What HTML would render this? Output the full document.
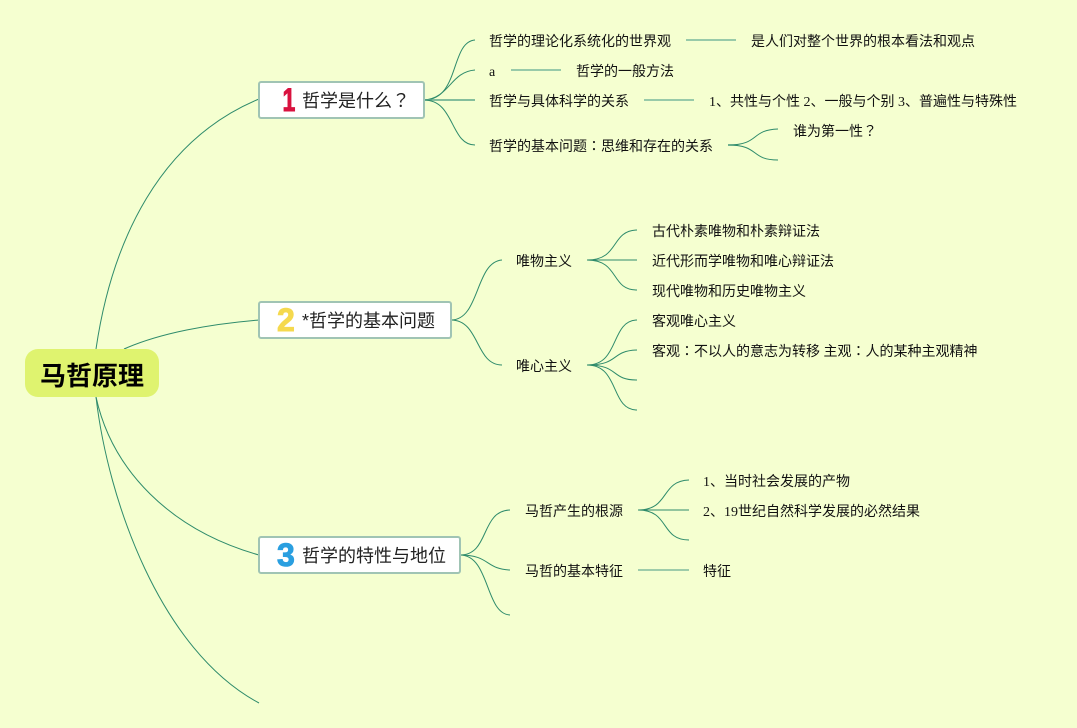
<!DOCTYPE html>
<html><head><meta charset="utf-8"><style>
html,body{margin:0;padding:0;background:#f5ffd0;}
body{width:1077px;height:728px;overflow:hidden;position:relative;font-family:"Liberation Serif","Noto Sans CJK SC",sans-serif;color:#111;}
svg{position:absolute;left:0;top:0;}
.t{position:absolute;font-size:14px;line-height:20px;white-space:nowrap;margin-top:4px;}
.p{font-family:"Noto Sans CJK JP",sans-serif;line-height:0;}
.n{position:absolute;box-sizing:border-box;height:38px;background:#fff;border:2px solid #a0c4b4;border-radius:3px;}
.m{position:absolute;font-family:"Liberation Sans","Noto Sans CJK SC",sans-serif;font-size:18px;line-height:24px;white-space:nowrap;color:#222;}
.d{position:absolute;font-family:"Liberation Sans",sans-serif;font-weight:bold;font-size:32px;line-height:38px;-webkit-text-stroke:1px currentColor;}
.root{position:absolute;left:25px;top:349px;width:134px;height:48px;background:#dff36f;border-radius:13px;text-align:center;font-family:"Noto Sans CJK SC",sans-serif;font-weight:700;font-size:26px;line-height:51px;color:#000;}
</style></head><body>
<svg width="1077" height="728" fill="none" stroke="#2e8b6b" stroke-width="1">
<path d="M96 349C112 240 160 140 259 99"/>
<path d="M124 349C160 333 210 324 259 320"/>
<path d="M96 397C112 470 170 530 259 555"/>
<path d="M96 397C108 500 160 650 259 703"/>
<path d="M424 100C460 100 450 42 475 40"/>
<path d="M424 100C450 98 450 72 475 70"/>
<path d="M424 100H475" stroke="#5fa98a" stroke-width="1.6"/>
<path d="M424 100C455 100 450 145 475 145"/>
<path d="M686 40H736M511 70H561M644 100H694M728 145H738" stroke="#7ab89c" stroke-width="1.6"/>
<path d="M728 145C760 145 750 130 778 129"/>
<path d="M728 145C760 145 750 160 778 160"/>
<path d="M451 320C480 320 475 262 502 260"/>
<path d="M451 320C480 320 475 365 502 365"/>
<path d="M587 260C620 260 610 231 637 230"/>
<path d="M587 260H637"/>
<path d="M587 260C620 260 610 290 637 290"/>
<path d="M587 365C620 365 610 321 637 320"/>
<path d="M587 365C620 365 610 351 637 350"/>
<path d="M587 365C620 365 610 380 637 380"/>
<path d="M587 365C620 365 610 410 637 410"/>
<path d="M460 555C490 555 480 511 510 510"/>
<path d="M460 555C490 555 485 569 510 570"/>
<path d="M460 555C490 555 485 614 510 615"/>
<path d="M638 510C670 510 660 481 689 480"/>
<path d="M638 510H689"/>
<path d="M638 510C670 510 660 540 689 540"/>
<path d="M638 570H689" stroke="#6aae92" stroke-width="1.2"/>
</svg>
<div class="root">马哲原理</div>
<div class="n" style="left:258px;top:81px;width:167px;"></div>
<div class="d" style="left:280px;top:81px;color:#d9123f;transform:scaleX(.72);">1</div>
<div class="m" style="left:302px;top:89px;">哲学是什么<span class="p">？</span></div>
<div class="n" style="left:258px;top:301px;width:194px;"></div>
<div class="d" style="left:277px;top:301px;color:#f5d94e;">2</div>
<div class="m" style="left:302px;top:309px;">*哲学的基本问题</div>
<div class="n" style="left:258px;top:536px;width:203px;"></div>
<div class="d" style="left:277px;top:536px;color:#2a9fe0;">3</div>
<div class="m" style="left:302px;top:544px;">哲学的特性与地位</div>
<div class="t" style="left:489px;top:29px;">哲学的理论化系统化的世界观</div>
<div class="t" style="left:751px;top:29px;">是人们对整个世界的根本看法和观点</div>
<div class="t" style="left:489px;top:59px;">a</div>
<div class="t" style="left:576px;top:59px;">哲学的一般方法</div>
<div class="t" style="left:489px;top:89px;">哲学与具体科学的关系</div>
<div class="t" style="left:709px;top:89px;">1、共性与个性 2、一般与个别 3、普遍性与特殊性</div>
<div class="t" style="left:489px;top:134px;">哲学的基本问题<span class="p">：</span>思维和存在的关系</div>
<div class="t" style="left:793px;top:119px;">谁为第一性<span class="p">？</span></div>
<div class="t" style="left:516px;top:249px;">唯物主义</div>
<div class="t" style="left:516px;top:354px;">唯心主义</div>
<div class="t" style="left:652px;top:219px;">古代朴素唯物和朴素辩证法</div>
<div class="t" style="left:652px;top:249px;">近代形而学唯物和唯心辩证法</div>
<div class="t" style="left:652px;top:279px;">现代唯物和历史唯物主义</div>
<div class="t" style="left:652px;top:309px;">客观唯心主义</div>
<div class="t" style="left:652px;top:339px;">客观<span class="p">：</span>不以人的意志为转移 主观<span class="p">：</span>人的某种主观精神</div>
<div class="t" style="left:525px;top:499px;">马哲产生的根源</div>
<div class="t" style="left:525px;top:559px;">马哲的基本特征</div>
<div class="t" style="left:703px;top:469px;">1、当时社会发展的产物</div>
<div class="t" style="left:703px;top:499px;">2、19世纪自然科学发展的必然结果</div>
<div class="t" style="left:703px;top:559px;">特征</div>
</body></html>
